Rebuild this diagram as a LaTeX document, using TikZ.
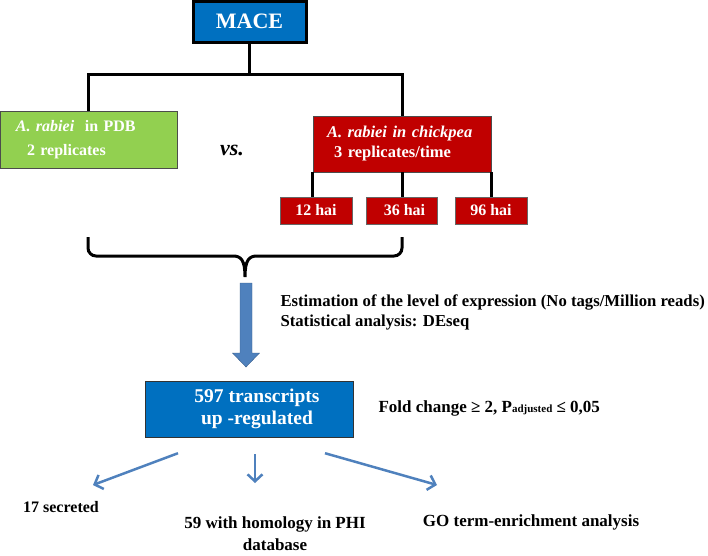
\documentclass[tikz,border=0pt]{standalone}
\usepackage{fontspec}
\setmainfont{Liberation Serif}
\usetikzlibrary{arrows.meta}
\definecolor{mace-blue}{HTML}{0070C0}
\definecolor{leaf-green}{HTML}{92D050}
\definecolor{dark-red}{HTML}{C00000}
\definecolor{arrow-blue}{HTML}{4F81BD}
\definecolor{arrow-edge}{HTML}{385D8A}
\tikzset{
    main-box/.style = {draw=black, line width=3pt, fill=mace-blue, text=white, font=\fontsize{22}{24}\selectfont\bfseries, minimum width=113pt, minimum height=41pt},
    sample-box/.style = {draw=black!70, thin, text=white, align=left, inner sep=0pt},
    time-box/.style = {draw=black!60, thin, fill=dark-red, text=white, font=\fontsize{16}{18}\selectfont\bfseries, minimum height=27pt},
    tree-line/.style = {line width=3pt},
    thin-arrow/.style = {arrow-blue, line width=2.5pt, -{Straight Barb[length=7pt,width=15pt]}},
    plain-text/.style = {font=\fontsize{17}{20}\selectfont\bfseries},
}
\begin{document}
\begin{tikzpicture}[x=1pt, y=-1pt]
\useasboundingbox (0,0) rectangle (708,555);
\node [main-box] (mace) at (249.5,21.5) {MACE};
\node [sample-box, fill=leaf-green, minimum width=177pt, minimum height=57pt, text width=145pt, font=\fontsize{16}{24}\selectfont\bfseries] (pdb) at (88.5,139.5) {\textit{A. rabiei} \ in PDB\\\hspace*{11pt}2 replicates};
\node [sample-box, fill=dark-red, minimum width=178pt, minimum height=56pt, text width=150pt, font=\fontsize{16.5}{20}\selectfont\bfseries] (chickpea) at (402,144) {\textit{A. rabiei in chickpea}\\\hspace*{7pt}3 replicates/time};
\node [font=\fontsize{22}{24}\selectfont\bfseries\itshape] (vs) at (232,150) {vs.};
\node [time-box, minimum width=72pt] (h12) at (316,210.5) {12 hai};
\node [time-box, minimum width=71pt] (h36) at (401.5,210.5) {\hspace*{6pt}36 hai};
\node [time-box, minimum width=72pt] (h96) at (491,210.5) {96 hai};
\coordinate (split) at (249.5,74);
\draw [tree-line] (mace) -- (split);
\draw [tree-line] (pdb.north) |- (split) -| (chickpea.north);
\draw [tree-line] (chickpea.south west) -- (chickpea.south west |- h12.north);
\draw [tree-line] (chickpea.south) -- (h36.north -| chickpea.south);
\draw [tree-line] (chickpea.south east) -- (chickpea.south east |- h96.north);
\draw [tree-line] (88,237) -- (88,248) to[out=-90,in=180] (96,256) -- (233,256) .. controls (241,256) and (245,260) .. (245,277) .. controls (245,260) and (249,256) .. (257,256) -- (394,256) to[out=0,in=-90] (402,248) -- (402,237);
\filldraw [fill=arrow-blue, draw=arrow-edge, thin] (240,283) -- (252,283) -- (252,353) -- (259.5,353) -- (246,367) -- (232.5,353) -- (240,353) -- cycle;
\node [draw=black!80, thin, fill=mace-blue, text=white, font=\fontsize{19.5}{22}\selectfont\bfseries, align=center, minimum width=208pt, minimum height=56pt] (up) at (249,409) {\hspace*{16pt}597 transcripts\\\hspace*{16pt}up -regulated};
\node [plain-text, font=\fontsize{16.7}{19.5}\selectfont\bfseries, anchor=west, align=left] (est) at (277,312.5) {Estimation of the level of expression (No tags/Million reads)\\Statistical analysis: DEseq};
\node [plain-text, anchor=west] (fold) at (375,408) {Fold change ≥ 2, P{\fontsize{11}{11}\selectfont adjusted} ≤ 0,05};
\node [plain-text, font=\fontsize{16}{20}\selectfont\bfseries] (sec) at (61,507) {17 secreted};
\node [plain-text, align=center, font=\fontsize{17}{22}\selectfont\bfseries] (phi) at (275,534) {59 with homology in PHI\\database};
\node [plain-text] (go) at (531,522) {GO term-enrichment analysis};
\coordinate (sec-tip) at (93,485);
\coordinate (phi-tip) at (255,483);
\coordinate (go-tip) at (437,485);
\draw [thin-arrow] ([shift={(-71,16)}]up.south) -- (sec-tip);
\draw [thin-arrow] ([shift={(6,17)}]up.south) -- (phi-tip);
\draw [thin-arrow] ([shift={(76,16)}]up.south) -- (go-tip);
\end{tikzpicture}
\end{document}
